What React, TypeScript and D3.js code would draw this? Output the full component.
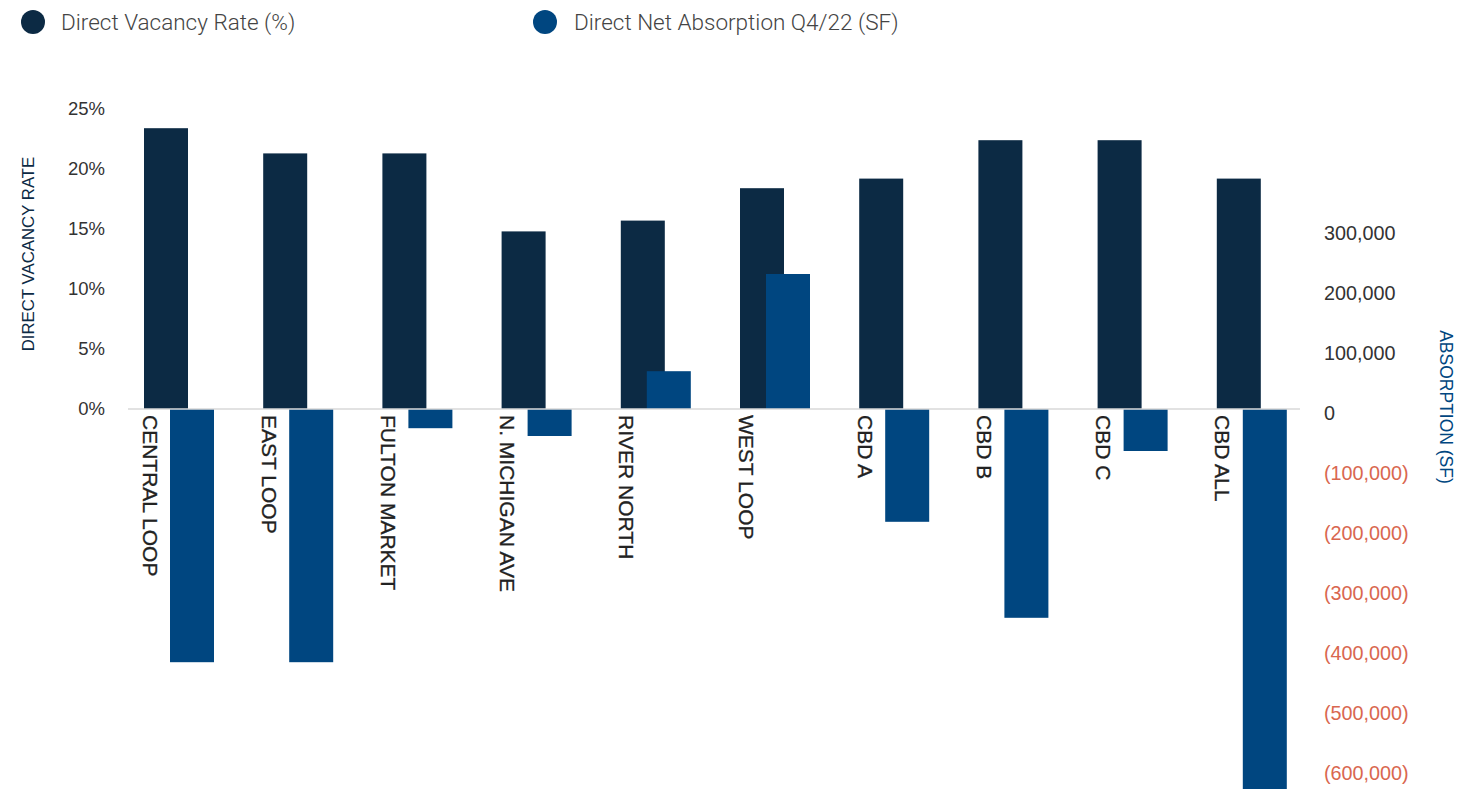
import React from "react";
import * as d3 from "d3";

const categories = ["CENTRAL LOOP", "EAST LOOP", "FULTON MARKET", "N. MICHIGAN AVE", "RIVER NORTH", "WEST LOOP", "CBD A", "CBD B", "CBD C", "CBD ALL"];
const vacancyRate = [23.4, 21.3, 21.3, 14.8, 15.7, 18.4, 19.2, 22.4, 22.4, 19.2];
const netAbsorption = [-422000, -422000, -32000, -45000, 63000, 225000, -188000, -348000, -70000, -640000];
const leftTicks = [0, 5, 10, 15, 20, 25];
const rightTicks = [300000, 200000, 100000, 0, -100000, -200000, -300000, -400000, -500000, -600000];

const W = 1457;
const H = 789;
const FONT = "'Liberation Sans', Arial, sans-serif";
const LEGEND_FONT = "Roboto, sans-serif";
const DARK = "#0c2a44";
const BLUE = "#004680";

export default function App() {
  const baseY = 409;
  const x = d3.scaleBand<string>().domain(categories).range([120, 120 + 119.2 * 10]).paddingInner(0).paddingOuter(0);
  const yL = d3.scaleLinear().domain([0, 25]).range([baseY, baseY - 300]);
  const yR = d3.scaleLinear().domain([0, 100000]).range([baseY, baseY - 60]);
  const barW = 44;
  const fmtR = (v: number) => {
    const s = d3.format(",")(Math.abs(v));
    return v < 0 ? `(${s})` : s;
  };
  return (
    <svg width={W} height={H} style={{ position: "absolute", left: 0, top: 0, background: "#fff" }} fontFamily={FONT}>
      {/* legend */}
      <circle cx={33} cy={22} r={12} fill={DARK} />
      <text x={61} y={22} dy="0.35em" fontFamily={LEGEND_FONT} fontSize={22.5} fontWeight={300} fill="#444">Direct Vacancy Rate (%)</text>
      <circle cx={545} cy={22} r={12} fill={BLUE} />
      <text x={574} y={22} dy="0.35em" fontFamily={LEGEND_FONT} fontSize={22.5} fontWeight={300} fill="#444">Direct Net Absorption Q4/22 (SF)</text>

      {/* left axis */}
      {leftTicks.map((t) => (
        <text key={"l" + t} x={105} y={yL(t)} dy="0.35em" textAnchor="end" fontSize={18.5} fill="#333">{t}%</text>
      ))}
      <text transform={`translate(28,${254}) rotate(-90)`} textAnchor="middle" dy="0.35em" fontSize={16.8} fill={DARK}>DIRECT VACANCY RATE</text>

      {/* right axis */}
      {rightTicks.map((t) => (
        <text key={"r" + t} x={1324} y={yR(t) + 4} dy="0.35em" textAnchor="start" fontSize={19.8} fill={t < 0 ? "#d9674f" : "#333"}>{fmtR(t)}</text>
      ))}
      <text transform={`translate(1446,${407}) rotate(90)`} textAnchor="middle" dy="0.35em" fontSize={17.5} fill={BLUE}>ABSORPTION (SF)</text>

      {/* bars */}
      {categories.map((c, i) => (
        <rect key={"v" + c} x={(x(c) as number) + 24} y={yL(vacancyRate[i])} width={barW} height={baseY - yL(vacancyRate[i])} fill={DARK} />
      ))}
      {categories.map((c, i) => {
        const v = netAbsorption[i];
        const y0 = yR(Math.max(0, v));
        const y1 = yR(Math.min(0, v));
        return <rect key={"a" + c} x={(x(c) as number) + 50} y={y0} width={barW} height={y1 - y0} fill={BLUE} />;
      })}
      <line x1={128} x2={1300} y1={baseY} y2={baseY} stroke="#d9d9d9" strokeWidth={1.5} />

      {/* category labels */}
      {categories.map((c) => (
        <text key={"c" + c} transform={`translate(${(x(c) as number) + 30},${415}) rotate(90)`} textAnchor="start" dy="0.35em" fontSize={21} fill="#222" stroke="#222" strokeWidth={0.3}>{c}</text>
      ))}
    </svg>
  );
}
